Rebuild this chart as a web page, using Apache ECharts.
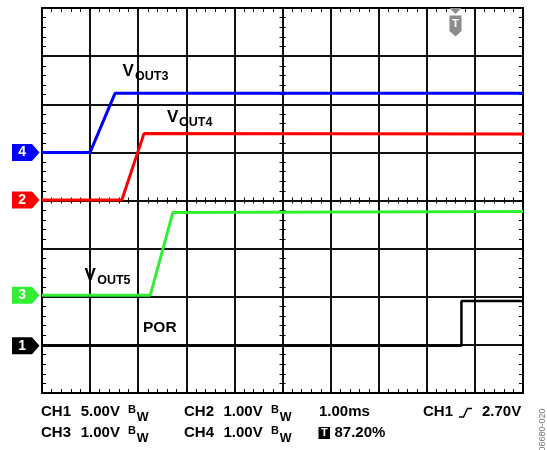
<!DOCTYPE html>
<html>
<head>
<meta charset="utf-8">
<script src="https://cdn.jsdelivr.net/npm/echarts@6/dist/echarts.min.js"></script>
<style>
html,body{margin:0;padding:0;background:#fff;}
#chart{width:547px;height:450px;}
</style>
</head>
<body>
<div id="chart"></div>
<script>
// Time axis in divisions (1.00 ms/div), vertical in divisions
const blueX  = [0, 1.00, 1.52, 10];
const blueY  = [5.00, 5.00, 6.23, 6.23];
const redX   = [0, 1.66, 2.12, 10];
const redY   = [4.01, 4.01, 5.39, 5.38];
const greenX = [0, 2.25, 2.72, 10];
const greenY = [2.03, 2.03, 3.75, 3.77];
const blackX = [0, 8.72, 8.72, 10];
const blackY = [0.98, 0.98, 1.91, 1.91];

const markerNames  = ['4', '2', '3', '1'];
const markerLevels = [5.00, 4.01, 2.03, 0.98];
const markerColors = ['#0000ff', '#ff0000', '#33ee33', '#000000'];

const FONT = '"Liberation Sans", Arial, sans-serif';

function pairs(xs, ys) { return xs.map((x, i) => [x, ys[i]]); }

const chart = echarts.init(document.getElementById('chart'), null, {renderer: 'canvas'});

function xAx(extra) {
  return Object.assign({
    type: 'value', min: 0, max: 10, interval: 1,
    axisLabel: {show: false},
    axisLine: {show: true, onZero: false, lineStyle: {color: '#000', width: 2}},
    axisTick: {show: true, inside: true, length: 4, lineStyle: {color: '#000', width: 1}},
    minorTick: {show: true, splitNumber: 5, length: 4, lineStyle: {color: '#000', width: 1}},
    splitLine: {show: false}
  }, extra);
}
function yAx(extra) {
  return Object.assign({
    type: 'value', min: 0, max: 8, interval: 1,
    axisLabel: {show: false},
    axisLine: {show: true, onZero: false, lineStyle: {color: '#000', width: 2}},
    axisTick: {show: true, inside: true, length: 4, lineStyle: {color: '#000', width: 1}},
    minorTick: {show: true, splitNumber: 5, length: 4, lineStyle: {color: '#000', width: 1}},
    splitLine: {show: false}
  }, extra);
}

function txt(x, y, s, size, extra) {
  return {
    type: 'text', x: x, y: y, silent: true, z: 100,
    style: Object.assign({text: s, fill: '#000', font: 'bold ' + size + 'px ' + FONT,
      align: 'left', verticalAlign: 'middle'}, extra || {})
  };
}

const graphics = [
  // trace labels
  txt(122.5, 71.5, 'V', 17), txt(135, 77, 'OUT3', 12.5),
  txt(167, 117.5, 'V', 17), txt(179, 122.5, 'OUT4', 12.5),
  txt(84.5, 275, 'V', 17), txt(97.2, 280.5, 'OUT5', 12.5),
  txt(143, 328, 'POR', 15.5),
  // bottom readout row 1
  txt(41, 412.3, 'CH1', 15), txt(80.7, 412.3, '5.00V', 15), txt(128, 409.5, 'B', 11), txt(136.8, 417.3, 'W', 12.5),
  txt(184, 412.3, 'CH2', 15), txt(223.5, 412.3, '1.00V', 15), txt(271, 409.5, 'B', 11), txt(279.8, 417.3, 'W', 12.5),
  txt(319, 412.3, '1.00ms', 15),
  txt(423, 412.3, 'CH1', 15), txt(482, 412.3, '2.70V', 15),
  // bottom readout row 2
  txt(41, 433.3, 'CH3', 15), txt(80.7, 433.3, '1.00V', 15), txt(128, 430.5, 'B', 11), txt(136.8, 438.3, 'W', 12.5),
  txt(184, 433.3, 'CH4', 15), txt(223.5, 433.3, '1.00V', 15), txt(271, 430.5, 'B', 11), txt(279.8, 438.3, 'W', 12.5),
  {type: 'rect', shape: {x: 318.5, y: 427, width: 11.5, height: 12}, style: {fill: '#000'}, silent: true, z: 100},
  txt(324.3, 433.3, 'T', 11, {fill: '#fff', align: 'center'}),
  txt(334.5, 433.3, '87.20%', 15),
  // trigger slope symbol
  {type: 'polyline', shape: {points: [[459, 417], [463.5, 417], [467.5, 408.5], [472, 408.5]]},
   style: {stroke: '#000', lineWidth: 1.5, fill: null}, silent: true, z: 100},
  // trigger position marker (top)
  {type: 'polygon', shape: {points: [[449.5, 8], [461.5, 8], [455.5, 14]]}, style: {fill: '#8c8c8c'}, silent: true, z: 100},
  {type: 'polygon', shape: {points: [[449.5, 15.5], [461.5, 15.5], [461.5, 31], [455.5, 36.5], [449.5, 31]]}, style: {fill: '#8c8c8c'}, silent: true, z: 100},
  txt(455.5, 24, 'T', 11.5, {fill: '#fff', align: 'center'}),
  // figure id, rotated
  {type: 'text', x: 543, y: 430, rotation: Math.PI / 2, silent: true, z: 100,
   style: {text: '06680-020', fill: '#777', font: '9px ' + FONT, align: 'center', verticalAlign: 'middle'}}
];

const markerData = markerNames.map((n, i) => ({
  name: n,
  value: [0, markerLevels[i]],
  itemStyle: {color: markerColors[i], opacity: 1}
}));

const option = {
  animation: false,
  backgroundColor: '#fff',
  grid: {left: 42, top: 8, width: 481, height: 385, containLabel: false},
  xAxis: [
    xAx({position: 'bottom', splitLine: {show: true, lineStyle: {color: '#111', width: 2}}}),
    xAx({position: 'top'}),
    xAx({position: 'bottom', offset: -192.5, axisLine: {show: false, onZero: false}, axisTick: {show: true, inside: true, length: 3, lineStyle: {color: '#000'}}, minorTick: {show: true, splitNumber: 5, length: 3, lineStyle: {color: '#000'}}}),
    xAx({position: 'bottom', offset: -192.5, axisLine: {show: false, onZero: false}, axisTick: {show: true, inside: false, length: 3, lineStyle: {color: '#000'}}, minorTick: {show: true, splitNumber: 5, length: 3, lineStyle: {color: '#000'}}})
  ],
  yAxis: [
    yAx({position: 'left', splitLine: {show: true, lineStyle: {color: '#111', width: 2}}}),
    yAx({position: 'right'}),
    yAx({position: 'left', offset: -240.5, axisLine: {show: false, onZero: false}, axisTick: {show: true, inside: true, length: 3, lineStyle: {color: '#000'}}, minorTick: {show: true, splitNumber: 5, length: 3, lineStyle: {color: '#000'}}}),
    yAx({position: 'left', offset: -240.5, axisLine: {show: false, onZero: false}, axisTick: {show: true, inside: false, length: 3, lineStyle: {color: '#000'}}, minorTick: {show: true, splitNumber: 5, length: 3, lineStyle: {color: '#000'}}})
  ],
  series: [
    {type: 'line', name: 'POR', data: pairs(blackX, blackY), showSymbol: false, symbol: 'none',
     lineStyle: {color: '#000', width: 2.5}, z: 3},
    {type: 'line', name: 'VOUT5', data: pairs(greenX, greenY), showSymbol: false, symbol: 'none',
     lineStyle: {color: '#33ee33', width: 3}, z: 4},
    {type: 'line', name: 'VOUT4', data: pairs(redX, redY), showSymbol: false, symbol: 'none',
     lineStyle: {color: '#ff0000', width: 3}, z: 5},
    {type: 'line', name: 'VOUT3', data: pairs(blueX, blueY), showSymbol: false, symbol: 'none',
     lineStyle: {color: '#0000ff', width: 3}, z: 6},
    {type: 'scatter', name: 'markers', data: markerData, clip: false, z: 10,
     symbol: 'path://M0,0 L20,0 L27.5,8.5 L20,17 L0,17 Z', symbolSize: [27.5, 17], symbolOffset: [-16.25, 0],
     itemStyle: {opacity: 1},
     emphasis: {disabled: true},
     label: {show: true, position: 'inside', formatter: '{b}', color: '#fff', fontWeight: 'bold', fontSize: 14,
             fontFamily: FONT, offset: [-3.5, 0]}}
  ],
  graphic: graphics
};
chart.setOption(option);
</script>
</body>
</html>
